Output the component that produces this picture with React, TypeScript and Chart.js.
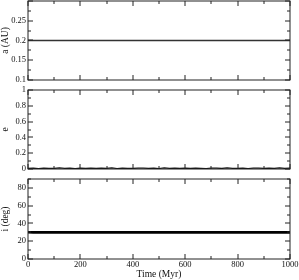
import React, { useEffect, useRef } from "react";
import { Chart, registerables } from "chart.js";
Chart.register(...registerables);

// ---- data ----
const TIME = [
  0, 20, 40, 60, 80, 100, 120, 140, 160, 180, 200, 220, 240, 260, 280, 300, 320, 340, 360, 380,
  400, 420, 440, 460, 480, 500, 520, 540, 560, 580, 600, 620, 640, 660, 680, 700, 720, 740, 760, 780,
  800, 820, 840, 860, 880, 900, 920, 940, 960, 980, 1000,
];
const A_VALUES = [
  0.2, 0.2, 0.2, 0.2, 0.2, 0.2, 0.2, 0.2, 0.2, 0.2, 0.2, 0.2, 0.2, 0.2, 0.2, 0.2, 0.2, 0.2, 0.2, 0.2,
  0.2, 0.2, 0.2, 0.2, 0.2, 0.2, 0.2, 0.2, 0.2, 0.2, 0.2, 0.2, 0.2, 0.2, 0.2, 0.2, 0.2, 0.2, 0.2, 0.2,
  0.2, 0.2, 0.2, 0.2, 0.2, 0.2, 0.2, 0.2, 0.2, 0.2, 0.2,
];
const E_VALUES = [
  0.008, 0.011, 0.006, 0.012, 0.009, 0.007, 0.013, 0.008, 0.01, 0.006, 0.011, 0.009, 0.012, 0.007, 0.01,
  0.008, 0.013, 0.006, 0.011, 0.009, 0.007, 0.012, 0.01, 0.008, 0.011, 0.006, 0.013, 0.009, 0.01, 0.007,
  0.012, 0.008, 0.011, 0.009, 0.006, 0.012, 0.01, 0.007, 0.013, 0.008, 0.009, 0.011, 0.006, 0.012, 0.01,
  0.008, 0.011, 0.007, 0.013, 0.009, 0.01,
];
const I_VALUES = [
  30.1, 29.9, 30.1, 29.9, 30.0, 29.9, 30.1, 30.0, 30.1, 29.9, 30.1, 29.9, 30.0, 29.9, 30.1, 29.9, 30.1,
  29.9, 30.1, 30.0, 30.1, 29.9, 30.1, 29.9, 30.0, 29.9, 30.1, 29.9, 30.1, 29.9, 30.1, 30.0, 30.1, 29.9,
  30.1, 29.9, 30.0, 29.9, 30.1, 29.9, 30.1, 29.9, 30.1, 30.0, 30.1, 29.9, 30.1, 29.9, 30.0, 29.9, 30.0,
];

const X_TICKS = [0, 200, 400, 600, 800, 1000];
const X_MINOR = [100, 300, 500, 700, 900];
const X_LABELS = ["0", "200", "400", "600", "800", "1000"];

const A_TICKS = [0.1, 0.15, 0.2, 0.25, 0.3];
const A_MINOR = [0.125, 0.175, 0.225, 0.275];
const A_LABELS = ["0.1", "0.15", "0.2", "0.25", ""];

const E_TICKS = [0, 0.2, 0.4, 0.6, 0.8, 1];
const E_MINOR = [0.1, 0.3, 0.5, 0.7, 0.9];
const E_LABELS = ["0", "0.2", "0.4", "0.6", "0.8", "1"];

const I_TICKS = [0, 20, 40, 60, 80];
const I_MINOR = [10, 30, 50, 70, 90];
const I_LABELS = ["0", "20", "40", "60", "80"];

// ---- styling ----
const FONT = "'Liberation Serif', 'Times New Roman', serif";
const FRAME = "#222";
const TEXT = "#111";
const OX = 20;
const OY = 20;
const CW = 339;
const CH = 320;

function frameTicks(xMaj: number[], xMin: number[], yMaj: number[], yMin: number[]) {
  return {
    id: "frameTicks",
    afterDatasetsDraw(chart: any) {
      const { ctx, chartArea, scales } = chart;
      const { left, right, top, bottom } = chartArea;
      const x = scales.x;
      const y = scales.y;
      ctx.save();
      ctx.strokeStyle = FRAME;
      ctx.lineWidth = 1;
      ctx.beginPath();
      const vx = (v: number, len: number) => {
        const px = Math.round(x.getPixelForValue(v));
        ctx.moveTo(px, bottom);
        ctx.lineTo(px, bottom - len);
        ctx.moveTo(px, top);
        ctx.lineTo(px, top + len);
      };
      const hy = (v: number, len: number) => {
        const py = Math.round(y.getPixelForValue(v));
        ctx.moveTo(left, py);
        ctx.lineTo(left + len, py);
        ctx.moveTo(right, py);
        ctx.lineTo(right - len, py);
      };
      xMaj.forEach((v) => vx(v, 5));
      xMin.forEach((v) => vx(v, 3));
      yMaj.forEach((v) => hy(v, 5));
      yMin.forEach((v) => hy(v, 3));
      ctx.stroke();
      ctx.strokeRect(left, top, right - left, bottom - top);
      ctx.restore();
    },
  };
}

type Panel = {
  values: number[];
  color: string;
  width: number;
  yMin: number;
  yMax: number;
  yTicks: number[];
  yMinor: number[];
  yLabels: string[];
  yTitle: string;
  showX: boolean;
  top: number;
  bottom: number;
};

function makeConfig(p: Panel): any {
  const points = TIME.map((t, i) => ({ x: t, y: p.values[i] }));
  const xHeight = p.showX ? 21 : 0;
  const chartBottomCanvas = p.bottom + OY;
  return {
    type: "line",
    data: {
      datasets: [
        {
          data: points,
          borderColor: p.color,
          borderWidth: p.width,
          pointRadius: 0,
          tension: 0,
          fill: false,
        },
      ],
    },
    options: {
      animation: false,
      responsive: false,
      events: [],
      layout: {
        padding: {
          left: OX,
          right: CW - (290 + OX),
          top: p.top + OY,
          bottom: CH - chartBottomCanvas - xHeight,
        },
      },
      plugins: { legend: { display: false }, tooltip: { enabled: false } },
      scales: {
        x: {
          type: "linear",
          min: 0,
          max: 1000,
          display: p.showX,
          grid: { display: false, drawTicks: false },
          border: { display: false },
          afterBuildTicks: (s: any) => {
            s.ticks = X_TICKS.map((v) => ({ value: v }));
          },
          afterFit: (s: any) => {
            s.height = xHeight;
          },
          ticks: {
            font: { family: FONT, size: 8.5 },
            color: TEXT,
            padding: 1,
            maxRotation: 0,
            autoSkip: false,
            callback: (_v: any, i: number) => X_LABELS[i],
          },
          title: {
            display: p.showX,
            text: "Time (Myr)",
            font: { family: FONT, size: 9.5 },
            color: TEXT,
            padding: 0,
          },
        },
        y: {
          type: "linear",
          min: p.yMin,
          max: p.yMax,
          grid: { display: false, drawTicks: false },
          border: { display: false },
          afterBuildTicks: (s: any) => {
            s.ticks = p.yTicks.map((v) => ({ value: v }));
          },
          afterFit: (s: any) => {
            s.width = 28;
          },
          ticks: {
            font: { family: FONT, size: 8.5 },
            color: TEXT,
            padding: 2,
            autoSkip: false,
            callback: (_v: any, i: number) => p.yLabels[i],
          },
          title: {
            display: true,
            text: p.yTitle,
            font: { family: FONT, size: 9.5 },
            color: TEXT,
            padding: 0,
          },
        },
      },
    },
    plugins: [frameTicks(X_TICKS, X_MINOR, p.yTicks, p.yMinor)],
  };
}

const PANELS: Panel[] = [
  {
    values: A_VALUES,
    color: "#333",
    width: 1.5,
    yMin: 0.1,
    yMax: 0.3,
    yTicks: A_TICKS,
    yMinor: A_MINOR,
    yLabels: A_LABELS,
    yTitle: "a (AU)",
    showX: false,
    top: 1,
    bottom: 80,
  },
  {
    values: E_VALUES,
    color: "#111",
    width: 1.2,
    yMin: 0,
    yMax: 1,
    yTicks: E_TICKS,
    yMinor: E_MINOR,
    yLabels: E_LABELS,
    yTitle: "e",
    showX: false,
    top: 90,
    bottom: 169,
  },
  {
    values: I_VALUES,
    color: "#000",
    width: 2.6,
    yMin: 0,
    yMax: 90,
    yTicks: I_TICKS,
    yMinor: I_MINOR,
    yLabels: I_LABELS,
    yTitle: "i (deg)",
    showX: true,
    top: 179,
    bottom: 259,
  },
];

export default function App() {
  const r0 = useRef<HTMLCanvasElement>(null);
  const r1 = useRef<HTMLCanvasElement>(null);
  const r2 = useRef<HTMLCanvasElement>(null);

  useEffect(() => {
    const refs = [r0, r1, r2];
    const charts = refs.map((r, i) => new Chart(r.current as HTMLCanvasElement, makeConfig(PANELS[i])));
    return () => charts.forEach((c) => c.destroy());
  }, []);

  const cstyle: React.CSSProperties = {
    position: "absolute",
    left: -OX,
    top: -OY,
    width: CW,
    height: CH,
  };

  return (
    <div
      style={{
        position: "absolute",
        left: 0,
        top: 0,
        width: 299,
        height: 280,
        overflow: "hidden",
        background: "#fff",
      }}
    >
      <canvas ref={r0} width={CW} height={CH} style={cstyle} />
      <canvas ref={r1} width={CW} height={CH} style={cstyle} />
      <canvas ref={r2} width={CW} height={CH} style={cstyle} />
    </div>
  );
}
